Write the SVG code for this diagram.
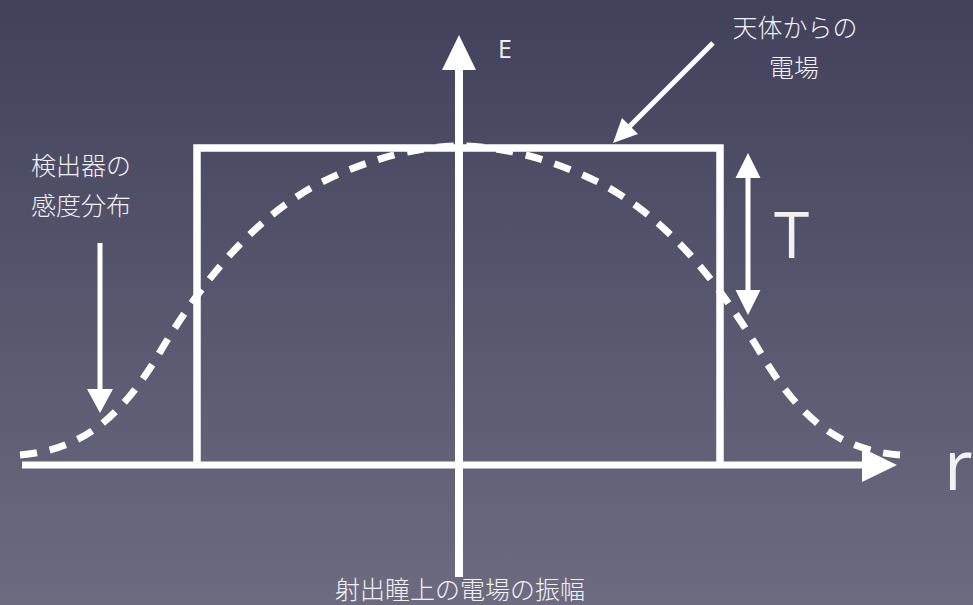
<svg xmlns="http://www.w3.org/2000/svg" width="973" height="605" viewBox="0 0 973 605">
<defs>
<linearGradient id="bg" x1="0" y1="0" x2="0" y2="1">
<stop offset="0" stop-color="#41415c"/>
<stop offset="1" stop-color="#6c6b80"/>
</linearGradient>
<style>
.ln{stroke:#fff;fill:none}
.ah{fill:#fff;stroke:none}
.jp{font-family:"Noto Sans CJK JP","Noto Sans",sans-serif;font-size:25px;fill:#f2f2f2;font-weight:300}
.lt{font-family:"Open Sans","Liberation Sans",sans-serif;fill:#f2f2f2;font-weight:400}
</style>
</defs>
<rect width="973" height="605" fill="url(#bg)"/>
<g id="connectors">
<path id="curve" class="ln" stroke-width="7" stroke-dasharray="17 13" d="M20,455 C80,450 120,420 160,352 C200,285 250,220 320,183 C370,158 420,146 460,146 C500,146 550,158 600,183 C670,220 720,285 760,352 C800,420 840,450 900,455"/>
<g id="rect-field">
<path class="ln" stroke-width="7.5" d="M197,465 V148 H720 V465"/>
</g>
<g id="x-axis">
<line class="ln" x1="22" y1="465" x2="866" y2="465" stroke-width="7"/>
<polygon class="ah" points="897,465 862,448 862,482"/>
</g>
<g id="y-axis">
<line class="ln" x1="459" y1="577" x2="459" y2="66" stroke-width="8"/>
<polygon class="ah" points="459,35 442,70 476,70"/>
</g>
<g id="arrow-source">
<line class="ln" x1="713" y1="43" x2="628" y2="128" stroke-width="5"/>
<polygon class="ah" points="613,143 622,118 638,134"/>
</g>
<g id="arrow-detector">
<line class="ln" x1="100" y1="243" x2="100" y2="392" stroke-width="5"/>
<polygon class="ah" points="100,413 87,389 113,389"/>
</g>
<g id="arrow-T">
<line class="ln" x1="748" y1="175" x2="748" y2="293" stroke-width="5"/>
<polygon class="ah" points="748,153 735.5,178 760.5,178"/>
<polygon class="ah" points="748,315 735.5,290 760.5,290"/>
</g>
</g>
<g id="label-E"><text class="lt" x="498" y="58" font-size="25">E</text></g>
<g id="label-source">
<text class="jp" x="795" y="37" text-anchor="middle">天体からの</text>
<text class="jp" x="794" y="77" text-anchor="middle">電場</text>
</g>
<g id="label-detector">
<text class="jp" x="31" y="175">検出器の</text>
<text class="jp" x="31" y="215">感度分布</text>
</g>
<g id="label-T"><text class="lt" x="774" y="258" font-size="64">T</text></g>
<g id="label-r"><text class="lt" x="944" y="490" font-size="70">r</text></g>
<g id="label-bottom"><text class="jp" x="460" y="599" text-anchor="middle">射出瞳上の電場の振幅</text></g>
</svg>
